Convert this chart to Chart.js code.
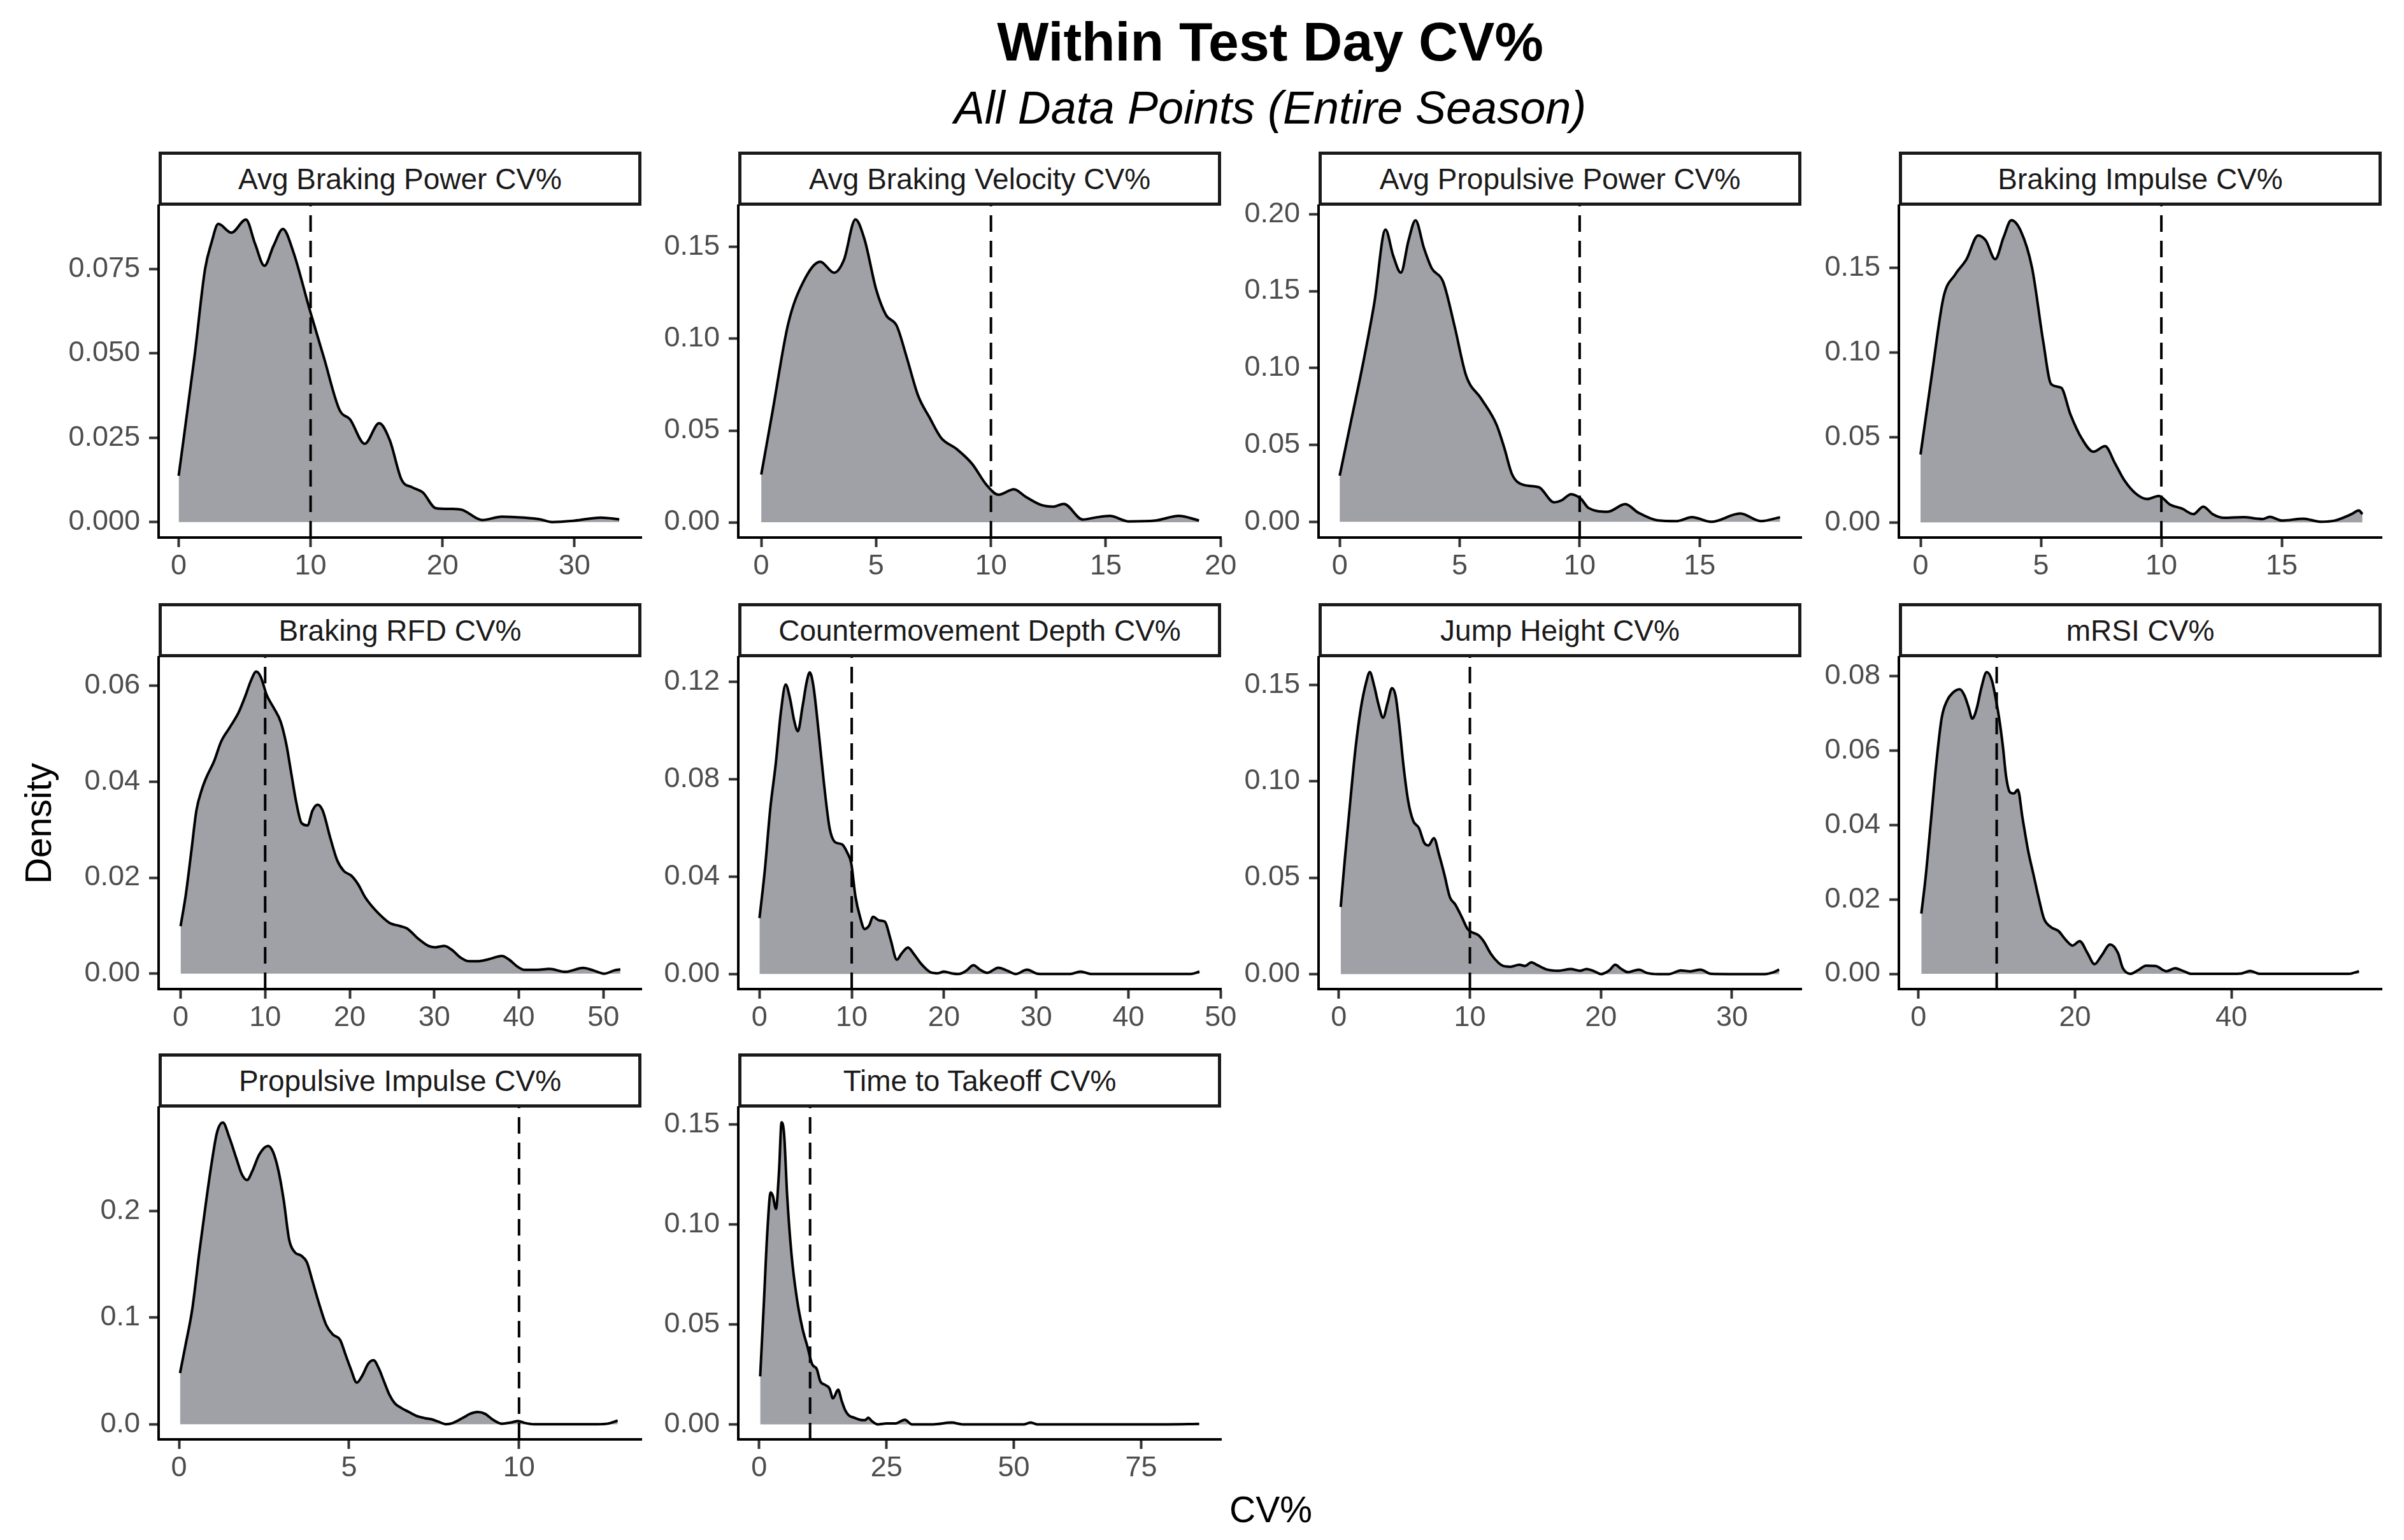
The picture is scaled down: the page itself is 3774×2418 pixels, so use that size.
<!DOCTYPE html>
<html lang="en">
<head>
    <meta charset="UTF-8">
    <title>Within Test Day CV%</title>
    <style>
        body {
            margin: 0;
            background: #fff;
            font-family: "Liberation Sans", Arial, sans-serif;
        }

        #page {
            position: relative;
            width: 3774px;
            height: 2418px;
            overflow: hidden;
            background: #fff;
        }

        .title {
            position: absolute;
            left: 1994px;
            top: 22px;
            transform: translateX(-50%);
            font-size: 86px;
            line-height: 86px;
            font-weight: bold;
            white-space: nowrap;
            color: #000;
        }

        .subtitle {
            position: absolute;
            left: 1994px;
            top: 133px;
            transform: translateX(-50%);
            font-size: 72px;
            line-height: 72px;
            font-style: italic;
            white-space: nowrap;
            color: #000;
        }

        .strip {
            position: absolute;
            box-sizing: border-box;
            border: 5px solid #1a1a1a;
            background: #fff;
            display: flex;
            align-items: center;
            justify-content: center;
            font-size: 46px;
            color: #1a1a1a;
            white-space: nowrap;
        }

        canvas {
            position: absolute;
        }

        .ylab {
            position: absolute;
            left: 60px;
            top: 1293px;
            transform: translate(-50%, -50%) rotate(-90deg);
            font-size: 57px;
            line-height: 57px;
            white-space: nowrap;
        }

        .xlab {
            position: absolute;
            left: 1995px;
            top: 2370px;
            transform: translate(-50%, -50%);
            font-size: 57px;
            line-height: 57px;
            white-space: nowrap;
        }
    </style>
</head>
<body>
    <div id="page">
        <div class="title">Within Test Day CV%</div>
        <div class="subtitle">All Data Points (Entire Season)</div>
        <div class="ylab">Density</div>
        <div class="xlab">CV%</div>
    </div>

    <script src="https://cdn.jsdelivr.net/npm/chart.js"></script>
    <script>
        // panel titles (facet strips)
        const panelTitles = [
            'Avg Braking Power CV%', 'Avg Braking Velocity CV%', 'Avg Propulsive Power CV%', 'Braking Impulse CV%',
            'Braking RFD CV%', 'Countermovement Depth CV%', 'Jump Height CV%', 'mRSI CV%',
            'Propulsive Impulse CV%', 'Time to Takeoff CV%'
        ];

        // reference line
        const cutoff = 10;

        // density curves: [CV%, density]
        const avgBrakingPower = [[0,0.0137],[1.2,0.049],[2.0,0.075],[2.5,0.083],[3.0,0.0884],[4.0,0.0858],[5.1,0.0897],[5.8,0.0824],[6.5,0.076],[7.2,0.082],[7.9,0.0869],[8.7,0.080],[9.9,0.0634],[11.0,0.0489],[12.2,0.0332],[13.0,0.0304],[14.1,0.0232],[15.2,0.0293],[16.0,0.0243],[16.9,0.0125],[17.7,0.0103],[18.5,0.0088],[19.5,0.0041],[20.7,0.0039],[21.5,0.0036],[23.0,0.0006],[24.5,0.0016],[26.2,0.0013],[27.4,0.0008],[28.3,0],[30.0,0.0004],[32.0,0.0013],[33.4,0.0008]];
        const avgBrakingVelocity = [[0,0.026],[0.5,0.061],[1.17,0.108],[1.83,0.131],[2.57,0.142],[3.17,0.136],[3.6,0.143],[4.1,0.165],[4.5,0.154],[5.0,0.127],[5.43,0.113],[5.9,0.107],[6.33,0.090],[6.83,0.069],[7.33,0.057],[7.83,0.046],[8.5,0.040],[9.17,0.032],[9.83,0.020],[10.33,0.015],[11.0,0.018],[11.5,0.014],[12.17,0.0095],[12.7,0.0085],[13.17,0.010],[14.0,0.0015],[14.5,0.0025],[15.17,0.0035],[16.0,0.0005],[17.17,0.001],[18.17,0.0035],[19.06,0.001]];
        const avgPropulsivePower = [[0,0.030],[0.48,0.066],[0.96,0.102],[1.44,0.142],[1.91,0.190],[2.23,0.173],[2.55,0.162],[2.87,0.183],[3.16,0.196],[3.51,0.178],[3.83,0.165],[4.31,0.156],[4.79,0.127],[5.27,0.095],[5.90,0.080],[6.54,0.063],[6.86,0.048],[7.18,0.031],[7.66,0.024],[8.30,0.0225],[8.93,0.0127],[9.25,0.014],[9.64,0.018],[10.05,0.015],[10.37,0.009],[11.17,0.0066],[11.9,0.0115],[12.44,0.006],[13.24,0.001],[14.04,0.0005],[14.68,0.003],[15.48,0],[16.69,0.0054],[17.55,0.0005],[18.35,0.003]];
        const brakingImpulse = [[0,0.040],[0.48,0.088],[0.96,0.133],[1.44,0.146],[1.91,0.155],[2.39,0.169],[2.71,0.166],[3.10,0.155],[3.45,0.168],[3.77,0.178],[4.15,0.172],[4.63,0.150],[5.1,0.106],[5.42,0.0815],[5.84,0.0793],[6.22,0.0638],[6.7,0.0493],[7.18,0.0416],[7.66,0.0449],[8.07,0.0349],[8.46,0.0249],[8.93,0.0171],[9.41,0.0138],[9.89,0.0156],[10.37,0.0104],[10.85,0.0082],[11.33,0.0049],[11.74,0.0093],[12.13,0.0049],[12.6,0.0027],[13.4,0.0031],[14.2,0.002],[14.5,0.0033],[15.0,0.0011],[15.9,0.0022],[16.6,0.0004],[17.2,0.0011],[17.9,0.0049],[18.2,0.007],[18.35,0.0049]];
        const brakingRfd = [[0,0.0099],[0.62,0.0165],[1.25,0.0252],[1.87,0.034],[2.5,0.0383],[3.1,0.0411],[3.95,0.0442],[4.78,0.0483],[5.82,0.0513],[6.86,0.0544],[7.69,0.058],[8.31,0.061],[8.94,0.0629],[9.48,0.0618],[10.19,0.058],[11.0,0.0554],[11.85,0.0524],[12.5,0.0478],[13.1,0.0416],[13.7,0.0355],[14.3,0.0314],[15.0,0.0309],[15.6,0.034],[16.2,0.0352],[16.8,0.034],[17.7,0.0283],[18.5,0.0237],[19.3,0.0214],[20.2,0.0204],[21.0,0.0186],[21.8,0.016],[22.65,0.014],[23.5,0.0124],[24.7,0.0106],[26.0,0.0099],[26.8,0.0094],[28.1,0.0073],[29.3,0.0058],[30.1,0.0055],[31.2,0.0058],[32.2,0.0048],[33.0,0.0035],[34.1,0.0026],[35.1,0.0026],[36.4,0.003],[38.0,0.0037],[38.8,0.003],[39.9,0.0014],[40.7,0.0008],[42.2,0.0008],[43.6,0.001],[45.5,0.0004],[47.6,0.0012],[48.8,0.0007],[50.1,0],[51.3,0.0007],[52.0,0.0009]];
        const cmDepth = [[0,0.023],[0.58,0.0427],[1.17,0.068],[1.75,0.086],[2.33,0.108],[2.84,0.119],[3.3,0.1134],[3.77,0.104],[4.16,0.0998],[4.67,0.110],[5.14,0.1205],[5.45,0.124],[5.84,0.1185],[6.42,0.0993],[7.0,0.078],[7.6,0.060],[8.17,0.0543],[8.95,0.0533],[9.53,0.0498],[9.95,0.0455],[10.4,0.032],[10.9,0.0235],[11.4,0.0185],[11.9,0.020],[12.3,0.0235],[13.0,0.022],[13.6,0.0215],[14.2,0.0144],[14.9,0.0059],[15.4,0.0084],[16.1,0.0109],[16.7,0.0084],[17.5,0.0043],[18.5,0.0008],[19.3,0.0003],[20.0,0.001],[20.8,0.0003],[21.6,0],[22.4,0.0013],[23.2,0.0036],[23.9,0.0018],[24.7,0.0005],[25.9,0.0026],[26.9,0.0013],[27.8,0],[29.0,0.0018],[30.2,0.0001],[31.7,0],[33.7,0],[34.8,0.001],[36.0,0],[38.4,0],[42.2,0],[46.1,0],[46.9,0.0001],[47.7,0.001]];
        const jumpHeight = [[0.14,0.0348],[0.46,0.060],[0.87,0.0897],[1.28,0.1177],[1.68,0.138],[2.09,0.1515],[2.36,0.1566],[2.69,0.1496],[3.04,0.1394],[3.37,0.133],[3.72,0.1407],[4.05,0.1483],[4.32,0.1445],[4.59,0.1305],[4.94,0.1075],[5.29,0.0897],[5.67,0.0795],[6.11,0.0757],[6.52,0.068],[6.84,0.0667],[7.25,0.0705],[7.66,0.0616],[8.06,0.0514],[8.47,0.0399],[8.88,0.0361],[9.37,0.0297],[9.83,0.0233],[10.24,0.0214],[10.64,0.0202],[11.05,0.017],[11.59,0.0106],[12.14,0.0061],[12.54,0.0042],[13.09,0.0038],[13.77,0.0048],[14.2,0.0042],[14.7,0.0061],[15.1,0.0048],[15.9,0.0023],[16.75,0.0017],[17.7,0.0026],[18.4,0.0017],[18.9,0.0026],[19.5,0.0014],[20.0,0],[20.6,0.0017],[21.1,0.0048],[21.5,0.0029],[22.05,0.001],[22.9,0.0023],[23.5,0.0006],[24.35,0],[25.2,0],[26.1,0.0019],[26.8,0.0014],[27.6,0.0023],[28.4,0.0001],[29.8,0],[31.1,0],[32.5,0],[33.2,0.001],[33.6,0.0023]];
        const mrsi = [[0.37,0.0162],[0.92,0.026],[1.6,0.0412],[2.3,0.057],[2.98,0.0689],[3.67,0.0735],[4.36,0.0755],[5.28,0.0765],[5.87,0.0749],[6.42,0.0716],[6.88,0.0686],[7.43,0.0712],[8.03,0.0768],[8.72,0.0811],[9.4,0.0788],[9.86,0.0742],[10.3,0.0689],[10.8,0.061],[11.2,0.0531],[11.7,0.0488],[12.2,0.0485],[12.7,0.0495],[13.3,0.0419],[14.0,0.0333],[14.7,0.0267],[15.4,0.0201],[16.05,0.0148],[16.97,0.0125],[17.9,0.0115],[18.8,0.0092],[19.7,0.0076],[20.6,0.0088],[21.6,0.0056],[22.5,0.0026],[23.4,0.0049],[24.5,0.0079],[25.5,0.0056],[26.1,0.0016],[27.1,0],[28.0,0.0009],[29.1,0.0022],[30.3,0.0021],[31.7,0.0007],[32.8,0.0015],[33.9,0.0007],[34.9,0],[37.2,0],[39.9,0],[41.3,0.0001],[42.4,0.0008],[43.6,0],[48.2,0],[52.8,0],[55.0,0],[56.3,0.0007]];
        const propulsiveImpulse = [[0.03,0.048],[0.19,0.074],[0.39,0.108],[0.60,0.162],[0.81,0.212],[0.96,0.245],[1.12,0.274],[1.29,0.283],[1.48,0.269],[1.69,0.249],[1.84,0.235],[2.0,0.229],[2.15,0.237],[2.36,0.253],[2.62,0.261],[2.77,0.255],[2.93,0.237],[3.08,0.210],[3.24,0.173],[3.40,0.1615],[3.6,0.158],[3.76,0.152],[3.91,0.136],[4.12,0.113],[4.33,0.093],[4.53,0.084],[4.74,0.079],[4.9,0.065],[5.05,0.052],[5.23,0.039],[5.38,0.045],[5.57,0.057],[5.72,0.060],[5.88,0.052],[6.03,0.040],[6.19,0.0275],[6.35,0.0195],[6.55,0.015],[6.76,0.0115],[6.97,0.008],[7.23,0.0057],[7.43,0.0046],[7.64,0.0023],[7.85,0],[8.05,0.0011],[8.36,0.0062],[8.57,0.0099],[8.78,0.0115],[8.99,0.0099],[9.25,0.0039],[9.5,0.0005],[9.76,0.0016],[9.97,0.003],[10.18,0.0011],[10.43,0],[11.06,0],[11.57,0],[12.3,0],[12.6,0.0005],[12.9,0.0034]];
        const timeToTakeoff = [[0.2,0.024],[0.9,0.0594],[1.6,0.096],[2.26,0.116],[2.68,0.1143],[3.3,0.1077],[3.9,0.1265],[4.4,0.151],[4.9,0.145],[5.5,0.1143],[6.35,0.085],[7.4,0.063],[8.5,0.048],[9.5,0.0387],[10.4,0.0301],[11.3,0.0277],[12.0,0.0216],[12.9,0.0198],[13.8,0.018],[14.5,0.013],[15.5,0.0173],[16.2,0.0118],[16.9,0.007],[17.6,0.0045],[18.7,0.0033],[19.8,0.0023],[20.8,0.0021],[21.4,0.0033],[22.2,0.0015],[23.3,0],[25.0,0.0005],[26.8,0.0005],[28.6,0.0023],[30.0,0],[34.2,0],[37.8,0.0009],[39.9,0],[44.8,0],[51.9,0],[53.3,0.0009],[54.7,0],[66,0],[80.1,0],[86.4,0.0002]];

        const curves = [avgBrakingPower, avgBrakingVelocity, avgPropulsivePower, brakingImpulse,
            brakingRfd, cmDepth, jumpHeight, mrsi, propulsiveImpulse, timeToTakeoff];

        // tick labels per panel
        const xTickLabels = [
            ['0','10','20','30'], ['0','5','10','15','20'], ['0','5','10','15'], ['0','5','10','15'],
            ['0','10','20','30','40','50'], ['0','10','20','30','40','50'], ['0','10','20','30'], ['0','20','40'],
            ['0','5','10'], ['0','25','50','75']
        ];
        const yTickLabels = [
            ['0.000','0.025','0.050','0.075'], ['0.00','0.05','0.10','0.15'], ['0.00','0.05','0.10','0.15','0.20'], ['0.00','0.05','0.10','0.15'],
            ['0.00','0.02','0.04','0.06'], ['0.00','0.04','0.08','0.12'], ['0.00','0.05','0.10','0.15'], ['0.00','0.02','0.04','0.06','0.08'],
            ['0.0','0.1','0.2'], ['0.00','0.05','0.10','0.15']
        ];

        // axis limits (free scales per facet)
        const xLimits = [[-1.52,35.08],[-1.0,20.02],[-0.88,19.24],[-0.9,19.15],[-2.6,54.5],[-2.3,50.05],[-1.55,35.3],[-2.5,59.2],[-0.6,13.6],[-4.1,90.7]];
        const yLimits = [[-0.0046,0.0938],[-0.0083,0.1725],[-0.0102,0.2055],[-0.0089,0.1865],[-0.0032,0.0659],[-0.0062,0.1302],[-0.0078,0.1643],[-0.0041,0.0851],[-0.0142,0.2970],[-0.0075,0.1584]];

        // layout
        const colLeft = [249, 1159, 2070, 2981];
        const rowTop = [323, 1032, 1739];
        const plotW = 758, plotH = 521, stripH = 85;
        const YW = 150, XH = 90, TP = 30, RP = 50;

        const tickFont = { family: 'Liberation Sans', size: 45 };
        const page = document.getElementById('page');

        function makePanel(i) {
            const col = i % 4;
            const row = Math.floor(i / 4);
            const left = colLeft[col];
            const top = rowTop[row];

            const strip = document.createElement('div');
            strip.className = 'strip';
            strip.textContent = panelTitles[i];
            strip.style.left = left + 'px';
            strip.style.top = (top - stripH) + 'px';
            strip.style.width = plotW + 'px';
            strip.style.height = stripH + 'px';
            page.appendChild(strip);

            const canvas = document.createElement('canvas');
            canvas.width = YW + plotW + RP;
            canvas.height = TP + plotH + XH;
            canvas.style.left = (left - YW) + 'px';
            canvas.style.top = (top - TP) + 'px';
            page.appendChild(canvas);

            const [xMin, xMax] = xLimits[i];
            const [yMin, yMax] = yLimits[i];

            const gridOpts = { drawOnChartArea: false, drawTicks: true, tickLength: 15, tickWidth: 4, tickColor: '#333333' };
            const borderOpts = { display: true, color: '#000000', width: 4 };

            new Chart(canvas, {
                type: 'line',
                data: {
                    datasets: [
                        {
                            data: [{ x: cutoff, y: yMin }, { x: cutoff, y: yMax }],
                            borderColor: '#000000',
                            borderWidth: 4,
                            borderDash: [26, 14],
                            pointRadius: 0,
                            fill: false
                        },
                        {
                            data: curves[i].map(([x, y]) => ({ x: x, y: y })),
                            borderColor: '#000000',
                            borderWidth: 4,
                            backgroundColor: '#a0a1a6',
                            fill: 'origin',
                            pointRadius: 0,
                            cubicInterpolationMode: 'monotone'
                        }
                    ]
                },
                options: {
                    responsive: false,
                    animation: false,
                    devicePixelRatio: 1,
                    layout: { padding: { top: TP, right: RP, left: 0, bottom: 0 } },
                    plugins: { legend: { display: false }, tooltip: { enabled: false } },
                    scales: {
                        x: {
                            type: 'linear',
                            min: xMin,
                            max: xMax,
                            afterBuildTicks: s => { s.ticks = xTickLabels[i].map(v => ({ value: Number(v) })); },
                            afterFit: s => { s.height = XH; s.paddingLeft = 0; s.paddingRight = 0; },
                            ticks: {
                                callback: (v, k) => xTickLabels[i][k],
                                font: tickFont,
                                color: '#4d4d4d',
                                padding: 4,
                                maxRotation: 0,
                                autoSkip: false
                            },
                            grid: gridOpts,
                            border: borderOpts
                        },
                        y: {
                            type: 'linear',
                            min: yMin,
                            max: yMax,
                            afterBuildTicks: s => { s.ticks = yTickLabels[i].map(v => ({ value: parseFloat(v) })); },
                            afterFit: s => { s.width = YW; s.paddingTop = 0; s.paddingBottom = 0; },
                            ticks: {
                                callback: (v, k) => yTickLabels[i][k],
                                font: tickFont,
                                color: '#4d4d4d',
                                padding: 14,
                                autoSkip: false
                            },
                            grid: gridOpts,
                            border: borderOpts
                        }
                    }
                }
            });
        }

        for (let i = 0; i < panelTitles.length; i++) {
            makePanel(i);
        }
    </script>
</body>
</html>
